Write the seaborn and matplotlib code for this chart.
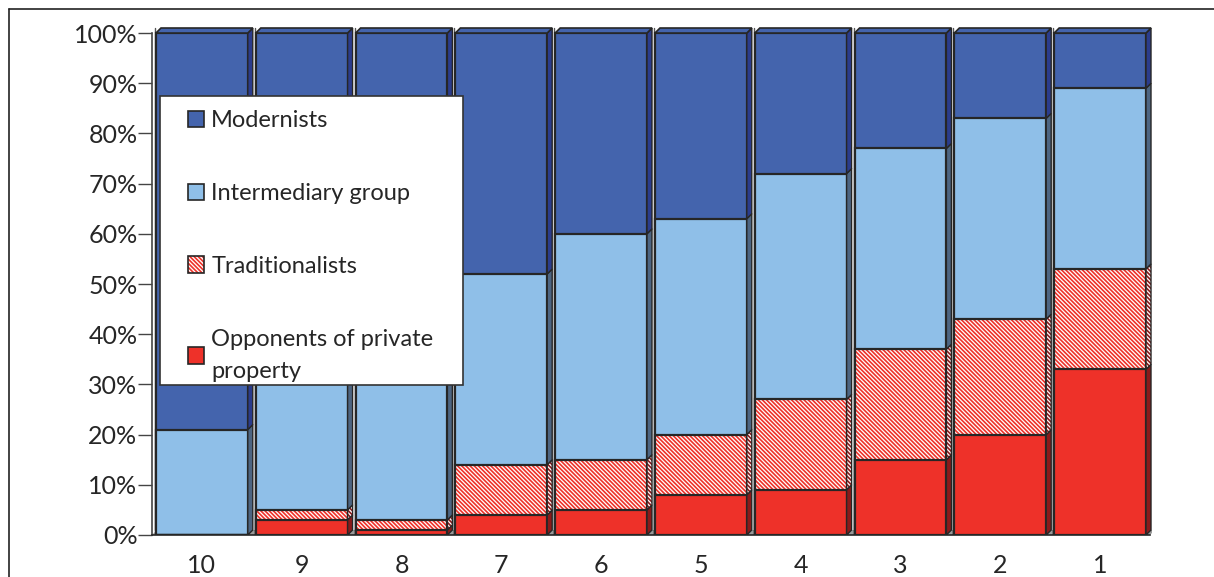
import numpy as np
import pandas as pd
import matplotlib
matplotlib.use("Agg")
import matplotlib.pyplot as plt
import seaborn as sns
from matplotlib.patches import Polygon, Patch, Rectangle
from matplotlib.lines import Line2D
from matplotlib.colors import to_rgba

# Share of each attitude group by decile (decile 10 on the left, decile 1 on the right)
groups = ["10", "9", "8", "7", "6", "5", "4", "3", "2", "1"]
opponents = [0, 3, 1, 4, 5, 8, 9, 15, 20, 33]
traditionalists = [0, 2, 2, 10, 10, 12, 18, 22, 23, 20]
intermediary = [21, 33, 42, 38, 45, 43, 45, 40, 40, 36]
modernists = [79, 62, 55, 48, 40, 37, 28, 23, 17, 11]
series_names = ["Modernists", "Intermediary group", "Traditionalists",
                "Opponents of private\nproperty"]
ytick_values = list(range(0, 101, 10))

C_MOD, C_MOD_SIDE = "#4464ad", "#2b3c8c"
C_INT, C_INT_SIDE = "#8fbfe8", "#4d6582"
C_RED, C_RED_SIDE = "#ee3129", "#8a1a1a"
EDGE = "#262626"
TXT = "#262626"
HATCH = "\\" * 8

sns.set_theme(style="white")
plt.rcParams["font.family"] = ["Lato", "DejaVu Sans"]
plt.rcParams["hatch.linewidth"] = 1.2

fig = plt.figure(figsize=(12.14, 5.77), dpi=100)
ax = fig.add_axes([152 / 1214, 42 / 577, 1000 / 1214, 509 / 577])

df = pd.DataFrame({"group": groups, "opp": opponents, "trad": traditionalists,
                   "int": intermediary, "mod": modernists})
df["c1"] = df["opp"]
df["c2"] = df["c1"] + df["trad"]
df["c3"] = df["c2"] + df["int"]
df["c4"] = df["c3"] + df["mod"]

W = 0.92            # bar width (category units)
DX, DY = 0.05, 1.0  # depth offset of the 3-D faces

common = dict(data=df, x="group", order=groups, width=W, saturation=1,
              errorbar=None, ax=ax, zorder=3)
sns.barplot(y="c4", color=C_MOD, edgecolor=EDGE, linewidth=1.6, **common)
sns.barplot(y="c3", color=C_INT, edgecolor=EDGE, linewidth=1.6, **common)
sns.barplot(y="c2", color="white", edgecolor=C_RED, linewidth=0,
            hatch=HATCH, **common)
sns.barplot(y="c2", fill=False, edgecolor=EDGE, linewidth=1.6, **common)
sns.barplot(y="c1", color=C_RED, edgecolor=EDGE, linewidth=1.6, **common)

# floor strip under the bars
ax.add_patch(Polygon([(-0.5, 0), (-0.5 + DX, DY), (9.5 + DX, DY), (9.5, 0)],
                     closed=True, facecolor="#9a9a9a", edgecolor="none", zorder=1))
# back-wall separators between categories
for i in range(11):
    xb = i - 0.5 + DX * 0.6
    ax.plot([xb, xb], [DY, 100 + DY], color="#555555", lw=1.0, zorder=1.5)

# right-hand side faces and top faces of each bar
for i, row in df.iterrows():
    xl, xr = i - W / 2, i + W / 2
    segs = [(0, row.c1, C_RED_SIDE, None), (row.c1, row.c2, "white", "hatch"),
            (row.c2, row.c3, C_INT_SIDE, None), (row.c3, row.c4, C_MOD_SIDE, None)]
    for b, t, col, kind in segs:
        if t - b <= 0:
            continue
        poly = Polygon([(xr, b), (xr + DX, b + DY), (xr + DX, t + DY), (xr, t)],
                       closed=True, facecolor=col, edgecolor=EDGE, lw=1.0, zorder=4)
        if kind == "hatch":
            poly.set_hatch(HATCH)
            poly._hatch_color = to_rgba(C_RED_SIDE)
        ax.add_patch(poly)
    ax.add_patch(Polygon([(xl, row.c4), (xl + DX, row.c4 + DY), (xr + DX, row.c4 + DY),
                          (xr, row.c4)], closed=True, facecolor=C_MOD,
                         edgecolor=EDGE, lw=1.2, zorder=4))

ax.set_xlim(-0.48, 9.52)
ax.set_ylim(0, 101.4)
ax.set_xlabel("")
ax.set_ylabel("")
ax.set_yticks(ytick_values)
ax.set_yticklabels([f"{v}%" for v in ytick_values])
ax.set_xticks(range(10))
ax.set_xticklabels(groups)
ax.set_xticks(np.arange(-0.5, 10, 1), minor=True)
ax.tick_params(axis="x", which="major", length=0, pad=14, labelsize=18, labelcolor=TXT)
ax.tick_params(axis="x", which="minor", length=10, width=1, color="#444444", direction="out")
ax.tick_params(axis="y", length=10, width=1, color="#444444", pad=0.5, labelsize=18,
               labelcolor=TXT, left=True)
for s in ["top", "right"]:
    ax.spines[s].set_visible(False)
ax.spines["bottom"].set_bounds(-0.5, 9.5)
ax.spines["bottom"].set_color(EDGE)
ax.spines["bottom"].set_linewidth(1.2)
ax.spines["left"].set_bounds(0, 100)
ax.spines["left"].set_color("#444444")
ax.spines["left"].set_linewidth(1.2)

# legend: white panel with a thin dark border, entries placed inside it
ax.add_patch(Rectangle((0.008, 0.295), 0.303, 0.567, transform=ax.transAxes,
                       facecolor="white", edgecolor="#333333", lw=1.2, zorder=9))
handles = [Patch(facecolor=C_MOD, edgecolor=EDGE, lw=1.2),
           Patch(facecolor=C_INT, edgecolor=EDGE, lw=1.2),
           Patch(facecolor="white", edgecolor=EDGE, lw=1.2, hatch=HATCH),
           Patch(facecolor=C_RED, edgecolor=EDGE, lw=1.2)]
handles[2]._hatch_color = to_rgba(C_RED)
leg = ax.legend(handles, series_names, loc="upper left",
                bbox_to_anchor=(0.036, 0.835), borderaxespad=0, borderpad=0,
                frameon=False, fontsize=17, labelspacing=2.2,
                handlelength=0.68, handleheight=0.68, handletextpad=0.3)
leg.set_zorder(10)
for t in leg.get_texts():
    t.set_color(TXT)
    t.set_linespacing(1.65)

# outer frame of the figure panel
fig.add_artist(Line2D([9 / 1214, 1], [1 - 9 / 577, 1 - 9 / 577],
                      transform=fig.transFigure, color="#222222", lw=1.2))
fig.add_artist(Line2D([9 / 1214, 9 / 1214], [0, 1 - 9 / 577],
                      transform=fig.transFigure, color="#222222", lw=1.2))

fig.savefig("out.png", dpi=100)
